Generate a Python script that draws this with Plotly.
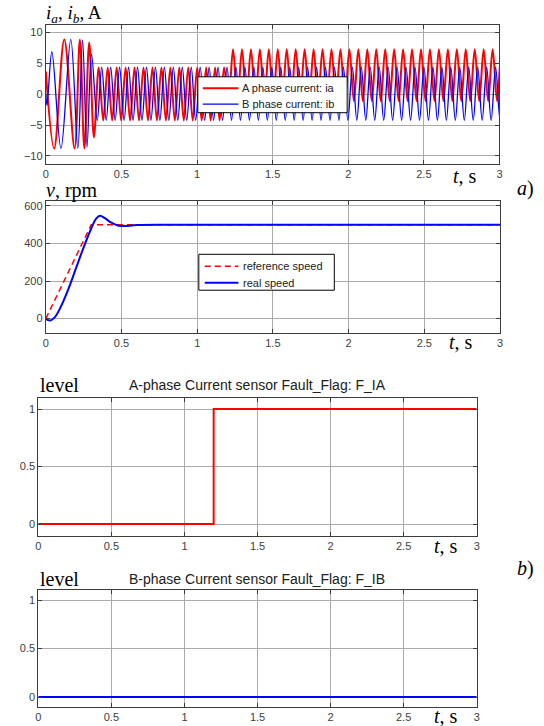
import plotly.graph_objects as go

W, H = 544, 726

# ---------------- data ----------------
# phase currents: transient extrema (time s, current A)
ia_tr_t = [0.0, 0.055, 0.122, 0.19, 0.225, 0.255, 0.287, 0.318]
ia_tr_v = [3.7, -8.8, 8.9, -8.8, 8.9, -8.8, 8.4, -7.0]
ib_tr_t = [0.0, 0.008, 0.04, 0.10, 0.165, 0.212, 0.243, 0.272, 0.302]
ib_tr_v = [0.0, -1.8, 6.9, -8.8, 8.9, -8.8, 8.8, -8.6, 6.5]

# steady operation: electrical period and (start, end, crest, trough) per segment
T_E = 0.0592
ia_first, ia_first_crest = 0.35, True
ia_segments = [(0.35, 1.2, 4.35, -4.25), (1.2, 3.1, 7.3, -1.1)]
ib_first, ib_first_crest = 0.34, False
ib_segments = [(0.34, 3.1, 4.4, -4.25)]

# speed
ref_t = [0.0, 0.30, 3.0]
ref_v = [0.0, 500.0, 500.0]
spd_t = [0.0, 0.015, 0.03, 0.06, 0.10, 0.15, 0.20, 0.25, 0.30, 0.33, 0.357, 0.39,
         0.43, 0.48, 0.52, 0.60, 0.80, 3.0]
spd_v = [0, -8, -10, 8, 65, 160, 270, 380, 480, 530, 548, 535, 512, 495, 493, 498,
         500, 500]

# fault flags
fa_t = [0.0, 1.2, 3.0]
fa_v = [0, 1, 1]
fb_t = [0.0, 3.0]
fb_v = [0, 0]

x_ticks = [0, 0.5, 1, 1.5, 2, 2.5, 3]
x_ticklabels = ["0", "0.5", "1", "1.5", "2", "2.5", "3"]

names_cur = ["A phase current: ia", "B phase current: ib"]
names_spd = ["reference speed", "real speed"]


def extrema(t0, crest_first, segments, period):
    """Alternating crest/trough instants over the steady segments."""
    ts, vs = [], []
    t, crest = t0, crest_first
    end = segments[-1][1]
    while t <= end:
        for a, b, hi, lo in segments:
            if a <= t < b or (t >= b and (a, b, hi, lo) == segments[-1]):
                ts.append(t)
                vs.append(hi if crest else lo)
                break
        t += period / 2
        crest = not crest
    return ts, vs


ia_s_t, ia_s_v = extrema(ia_first, ia_first_crest, ia_segments, T_E)
ib_s_t, ib_s_v = extrema(ib_first, ib_first_crest, ib_segments, T_E)
ia_t, ia_v = ia_tr_t + ia_s_t, ia_tr_v + ia_s_v
ib_t, ib_v = ib_tr_t + ib_s_t, ib_tr_v + ib_s_v


# ---------------- layout helpers ----------------
def px(x):
    return x / W


def py(y):
    return 1 - y / H


RED = "#ff0000"
BLUE = "#0000ff"
GRID = "#ababab"
AXC = "#3c3c3c"
SANS = "Liberation Sans, Arial"
TICKF = dict(family=SANS, size=11, color="#404040")
SERIF = "Liberation Serif, Times New Roman"

fig = go.Figure()

cur_lines = [dict(color=RED, width=2), dict(color=BLUE, width=1.3)]
spd_lines = [dict(color=RED, width=1.5, dash="6px,4px"), dict(color=BLUE, width=2)]

fig.add_trace(go.Scatter(x=ia_t, y=ia_v, mode="lines", name=names_cur[0],
                         line=dict(shape="spline", **cur_lines[0]),
                         xaxis="x", yaxis="y"))
fig.add_trace(go.Scatter(x=ib_t, y=ib_v, mode="lines", name=names_cur[1],
                         line=dict(shape="spline", **cur_lines[1]),
                         xaxis="x", yaxis="y"))

fig.add_trace(go.Scatter(x=ref_t, y=ref_v, mode="lines", name=names_spd[0],
                         line=spd_lines[0], xaxis="x2", yaxis="y2"))
fig.add_trace(go.Scatter(x=spd_t, y=spd_v, mode="lines", name=names_spd[1],
                         line=dict(shape="spline", **spd_lines[1]),
                         xaxis="x2", yaxis="y2"))

fig.add_trace(go.Scatter(x=fa_t, y=fa_v, mode="lines", name="F_IA",
                         line=dict(color=RED, width=2, shape="hv"),
                         xaxis="x3", yaxis="y3"))
fig.add_trace(go.Scatter(x=fb_t, y=fb_v, mode="lines", name="F_IB",
                         line=dict(color=BLUE, width=2, shape="hv"),
                         xaxis="x4", yaxis="y4"))


def xax(domain, anchor):
    return dict(domain=domain, anchor=anchor, range=[0, 3], tickvals=x_ticks,
                ticktext=x_ticklabels, showgrid=True, gridcolor=GRID, gridwidth=1,
                zeroline=False, showline=True, linecolor=AXC, linewidth=1,
                mirror="ticks", ticks="inside", ticklen=4, tickcolor=AXC,
                tickfont=TICKF)


def yax(domain, anchor, rng, ticks):
    return dict(domain=domain, anchor=anchor, range=rng, tickvals=ticks,
                showgrid=True, gridcolor=GRID, gridwidth=1, zeroline=False,
                showline=True, linecolor=AXC, linewidth=1, mirror="ticks",
                ticks="inside", ticklen=4, tickcolor=AXC, tickfont=TICKF)


P1 = dict(x=[px(43.3), px(502)], y=[py(162), py(23)])
P2 = dict(x=[px(43.3), px(502.5)], y=[py(332), py(200)])
P3 = dict(x=[px(35.7), px(479)], y=[py(535), py(396.7)])
P4 = dict(x=[px(35.7), px(479)], y=[py(706.7), py(590)])

fig.update_layout(
    width=W, height=H, margin=dict(l=0, r=0, t=0, b=0),
    paper_bgcolor="white", plot_bgcolor="white", showlegend=False,
    xaxis=xax(P1["x"], "y"), yaxis=yax(P1["y"], "x", [-11.25, 11.25], [-10, -5, 0, 5, 10]),
    xaxis2=xax(P2["x"], "y2"), yaxis2=yax(P2["y"], "x2", [-77, 624], [0, 200, 400, 600]),
    xaxis3=xax(P3["x"], "y3"), yaxis3=yax(P3["y"], "x3", [-0.1, 1.1], [0, 0.5, 1]),
    xaxis4=xax(P4["x"], "y4"), yaxis4=yax(P4["y"], "x4", [-0.1, 1.1], [0, 0.5, 1]),
)

ann = []
shapes = []


def label(text, x, y, size=20, xanchor="left", family=SERIF, color="black"):
    ann.append(dict(text=text, x=px(x), y=py(y), xref="paper", yref="paper",
                    showarrow=False, xanchor=xanchor, yanchor="middle",
                    font=dict(family=family, size=size, color=color)))


def legend_box(x0, y0, x1, y1, rows, names, styles, line_x0, line_x1, text_x):
    """MATLAB-style boxed legend drawn in paper coordinates."""
    shapes.append(dict(type="rect", xref="paper", yref="paper",
                       x0=px(x0), x1=px(x1), y0=py(y1), y1=py(y0),
                       line=dict(color="black", width=1), fillcolor="white", layer="above"))
    for yy, name, st in zip(rows, names, styles):
        ln = dict(color=st["color"], width=st["width"])
        if "dash" in st:
            ln["dash"] = st["dash"]
        shapes.append(dict(type="line", xref="paper", yref="paper",
                           x0=px(line_x0), x1=px(line_x1), y0=py(yy), y1=py(yy),
                           line=ln, layer="above"))
        label(name, text_x, yy, size=11, family=SANS, color="#202020")


legend_box(197, 75, 348, 111, [86.5, 102.5], names_cur,
           [dict(color=RED, width=2), dict(color=BLUE, width=1.3)], 202, 238, 240)
legend_box(198, 253, 335, 289, [265, 281.5], names_spd,
           [dict(color=RED, width=1.5, dash="6px,4px"), dict(color=BLUE, width=2)],
           204, 238, 241)

label("<i>i<sub>a</sub></i>, <i>i<sub>b</sub></i>, A", 41, 12, size=19)
label("<i>v</i>, rpm", 41, 189)
label("level", 35, 384)
label("level", 35, 579)
label("<i>t</i>, s", 453, 174)
label("<i>t</i>, s", 449, 341)
label("<i>t</i>, s", 434, 546)
label("<i>t</i>, s", 434, 716)
label("<i>a</i>)", 518, 187)
label("<i>b</i>)", 518, 568)
label("A-phase Current sensor Fault_Flag: F_IA", 257, 384, size=14,
      xanchor="center", family=SANS, color="#202020")
label("B-phase Current sensor Fault_Flag: F_IB", 257, 579, size=14,
      xanchor="center", family=SANS, color="#202020")

fig.update_layout(annotations=ann, shapes=shapes)

fig.write_html("out.html")
